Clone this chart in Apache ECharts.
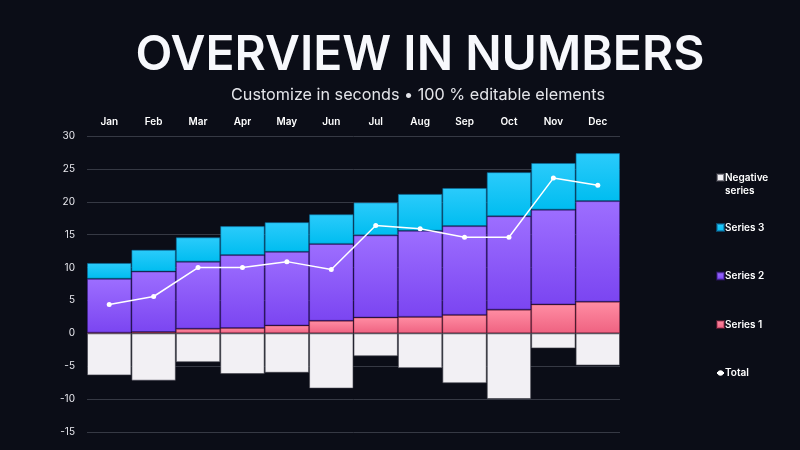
<!DOCTYPE html>
<html>
<head>
<meta charset="utf-8">
<script src="https://cdn.jsdelivr.net/npm/echarts@6/dist/echarts.min.js"></script>
<style>
  html, body { margin: 0; padding: 0; background: #0b0d17; }
  #chart { width: 800px; height: 450px; }
</style>
</head>
<body>
<div id="chart"></div>
<script>
// 数据
const months = ['Jan', 'Feb', 'Mar', 'Apr', 'May', 'Jun', 'Jul', 'Aug', 'Sep', 'Oct', 'Nov', 'Dec']
const series1 = [0.1, 0.2, 0.7, 0.8, 1.2, 1.9, 2.4, 2.5, 2.8, 3.6, 4.4, 4.8]
const series2 = [8.2, 9.2, 10.2, 11.1, 11.2, 11.7, 12.5, 13.1, 13.5, 14.2, 14.4, 15.3]
const series3 = [2.4, 3.3, 3.7, 4.4, 4.5, 4.5, 5.0, 5.6, 5.8, 6.7, 7.1, 7.3]
const negative = [-6.4, -7.2, -4.4, -6.2, -6.0, -8.4, -3.5, -5.3, -7.6, -10, -2.3, -4.9]
const total = [4.4, 5.6, 10.0, 10.0, 10.9, 9.7, 16.4, 15.9, 14.6, 14.6, 23.6, 22.5]

const grad = (top, bottom) => new echarts.graphic.LinearGradient(0, 0, 0, 1, [
  { offset: 0, color: top },
  { offset: 1, color: bottom }
])

const barItem = (color, border) => ({
  color: color,
  borderColor: border,
  borderWidth: 1
})

const legendText = { color: '#ffffff', fontSize: 10, fontWeight: 600, lineHeight: 13, padding: [0, 0, 0, -4] }

const chart = echarts.init(document.getElementById('chart'))
chart.setOption({
  backgroundColor: '#0b0d17',
  textStyle: { fontFamily: 'Inter, sans-serif' },
  title: [{
    text: 'OVERVIEW IN NUMBERS',
    left: 415,
    top: 27,
    textAlign: 'center',
    textStyle: { color: '#f7f8fc', fontSize: 48, fontWeight: 600 }
  }, {
    text: 'Customize in seconds • 100 % editable elements',
    left: 413,
    top: 82,
    textAlign: 'center',
    textStyle: { color: '#e4e5ea', fontSize: 16.2, fontWeight: 400 }
  }],
  // 图例: 负值单独一组, 前面加空行让图标对齐第一行
  legend: [{
    orient: 'vertical',
    left: 716,
    top: 158,
    padding: 0,
    itemWidth: 7,
    itemHeight: 7,
    data: [{ name: 'Negative\nseries', icon: 'rect' }],
    formatter: name => '\n' + name,
    textStyle: legendText
  }, {
    orient: 'vertical',
    left: 716,
    top: 221,
    padding: 0,
    itemGap: 35.5,
    itemWidth: 7,
    itemHeight: 7,
    data: [
      { name: 'Series 3', icon: 'rect' },
      { name: 'Series 2', icon: 'rect' },
      { name: 'Series 1', icon: 'rect' },
      { name: 'Total' }
    ],
    textStyle: legendText
  }],
  grid: {
    left: 87,
    right: 180,
    top: 136,
    bottom: 18
  },
  xAxis: {
    type: 'category',
    position: 'top',
    data: months,
    axisLine: { show: false },
    axisTick: { show: false },
    axisLabel: { color: '#ffffff', fontSize: 10, fontWeight: 600, margin: 9 }
  },
  yAxis: {
    type: 'value',
    min: -15,
    max: 30,
    interval: 5,
    axisLine: { show: false },
    axisTick: { show: false },
    axisLabel: { color: '#e8e8ee', fontSize: 10, margin: 12 },
    splitLine: { lineStyle: { color: '#363944', width: 1 } }
  },
  series: [
    {
      name: 'Series 1',
      type: 'bar',
      stack: 'all',
      barCategoryGap: 0,
      data: series1,
      itemStyle: barItem(grad('#ff8da3', '#ef6281'), 'rgba(150,40,70,0.45)')
    },
    {
      name: 'Series 2',
      type: 'bar',
      stack: 'all',
      data: series2,
      itemStyle: barItem(grad('#9d6eff', '#7b45f1'), 'rgba(60,25,140,0.5)')
    },
    {
      name: 'Series 3',
      type: 'bar',
      stack: 'all',
      data: series3,
      itemStyle: barItem(grad('#2bcbfb', '#00bdf0'), 'rgba(10,110,160,0.6)')
    },
    {
      name: 'Negative\nseries',
      type: 'bar',
      stack: 'all',
      data: negative,
      itemStyle: barItem('#f2f0f4', 'rgba(60,60,70,0.6)')
    },
    {
      name: 'Total',
      type: 'line',
      data: total,
      symbol: 'circle',
      symbolSize: 5,
      lineStyle: { color: '#ffffff', width: 1.5 },
      itemStyle: { color: '#ffffff' },
      z: 5
    }
  ]
})
</script>
</body>
</html>
